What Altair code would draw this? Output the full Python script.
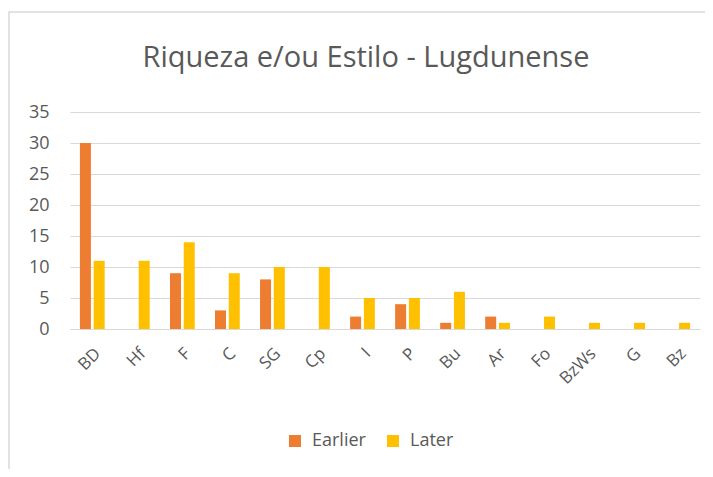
import altair as alt
import pandas as pd

categories = ["BD", "Hf", "F", "C", "SG", "Cp", "I", "P", "Bu", "Ar", "Fo", "BzWs", "G", "Bz"]
earlier = [30, 0, 9, 3, 8, 0, 2, 4, 1, 2, 0, 0, 0, 0]
later = [11, 11, 14, 9, 10, 10, 5, 5, 6, 1, 2, 1, 1, 1]
series = ["Earlier", "Later"]
colors = ["#ED7D31", "#FFC000"]
title_text = "Riqueza e/ou Estilo - Lugdunense"

rows = []
for c, e, l in zip(categories, earlier, later):
    rows.append({"cat": c, "series": "Earlier", "value": e})
    rows.append({"cat": c, "series": "Later", "value": l})
df = pd.DataFrame(rows)

FONT = "Open Sans"

bars = alt.Chart(df).mark_bar().encode(
    x=alt.X("cat:N", sort=categories, title=None,
            scale=alt.Scale(paddingInner=0.45, paddingOuter=0.22),
            axis=alt.Axis(labelAngle=-45, labelFontSize=17, labelColor="#595959",
                          labelFont=FONT, ticks=False, domain=True, domainColor="#d9d9d9",
                          labelPadding=16)),
    xOffset=alt.XOffset("series:N", sort=series, scale=alt.Scale(paddingInner=0.2)),
    y=alt.Y("value:Q", title=None,
            scale=alt.Scale(domain=[0, 35]),
            axis=alt.Axis(values=[0, 5, 10, 15, 20, 25, 30, 35], labelFontSize=18,
                          labelColor="#595959", labelFont=FONT, ticks=False, domain=False,
                          gridColor="#d9d9d9", labelPadding=21)),
    color=alt.Color("series:N", sort=series,
                    scale=alt.Scale(domain=series, range=colors),
                    legend=alt.Legend(title=None, orient="none", legendX=216, legendY=320,
                                      direction="horizontal", symbolType="square",
                                      symbolSize=144, symbolStrokeWidth=0,
                                      labelFontSize=18, labelColor="#595959",
                                      labelFont=FONT, columnPadding=18, labelOffset=8)),
)

frame = alt.Chart(alt.Data(values=[{}])).mark_rect(
    fill=None, stroke="#d9d9d9", strokeWidth=1.5, clip=False
).encode(x=alt.value(-61), x2=alt.value(700), y=alt.value(-100), y2=alt.value(400))

title = alt.Chart(alt.Data(values=[{"t": title_text}])).mark_text(
    font=FONT, fontSize=29, color="#595959", align="center", baseline="middle"
).encode(text="t:N", x=alt.value(296), y=alt.value(-54))

chart = alt.layer(frame, title, bars).properties(
    width=630, height=217,
    autosize=alt.AutoSizeParams(type="none"),
    padding={"left": 62, "top": 104, "right": 5, "bottom": 140},
).configure(background="white").configure_view(stroke=None)

chart.save("out.html", embed_options={"renderer": "svg", "actions": False})
